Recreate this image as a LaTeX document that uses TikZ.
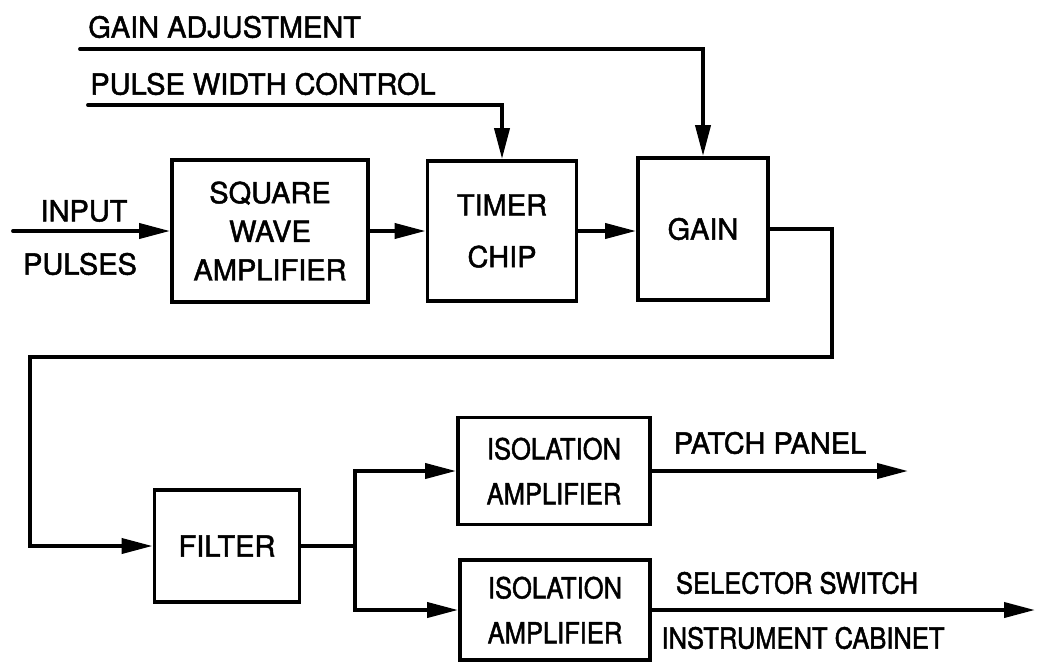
\documentclass[tikz,border=0pt]{standalone}
\usepackage{fontspec}
\setmainfont{TeX Gyre Heros}[FakeBold=1.6]
\usepackage{tikz}
\usetikzlibrary{arrows.meta,positioning,calc}
\tikzset{
  block/.style={
    rectangle, draw=black, line width=2.2pt,
    inner sep=0pt, align=center,
    font=\fontsize{16.5}{22}\selectfont
  },
  narrow/.style={font=\fontsize{16.5}{22}\selectfont\addfontfeature{FakeStretch=0.88}},
  sig/.style={line width=2.2pt, line cap=round},
  arr/.style={sig, -{Triangle[length=0.62cm,width=0.3cm]}},
  lbl/.style={font=\fontsize{16.5}{22}\selectfont, inner sep=0pt},
}

\begin{document}
\begin{tikzpicture}[x=0.02cm, y=-0.02cm]

  \useasboundingbox (0,0) rectangle (1037,663);

  % ── Blocks ───────────────────────────────────────────────────────────────────
  \node[block, minimum width=3.92cm, minimum height=2.84cm] (sqamp)  at (270,231)
    {SQUARE\\WAVE\\AMPLIFIER};
  \node[block, minimum width=2.98cm, minimum height=2.80cm] (timer)  at (502,231)
    {TIMER\\[7.5pt]CHIP};
  \node[block, minimum width=2.60cm, minimum height=2.84cm] (gain)   at (703,229)
    {GAIN};
  \node[block, minimum width=2.90cm, minimum height=2.24cm] (filter) at (227,546)
    {FILTER};
  \node[block, narrow, minimum width=3.84cm, minimum height=2.14cm] (isoA) at (554,471)
    {ISOLATION\\[3.6pt]AMPLIFIER};
  \node[block, narrow, minimum width=3.80cm, minimum height=2.00cm] (isoB) at (555,610)
    {ISOLATION\\[3.6pt]AMPLIFIER};

  % ── Control inputs ───────────────────────────────────────────────────────────
  \coordinate (gadj) at (80,49);
  \coordinate (pwc)  at (88,105);
  \node[lbl, anchor=west] (gadjtxt) at (88,27)  {GAIN ADJUSTMENT};
  \node[lbl, anchor=west] (pwctxt)  at (90,84)  {PULSE WIDTH CONTROL};
  \draw[arr] (gadj) -| (gain.north);
  \draw[arr] (pwc) -| (timer.north);

  % ── Input pulses ─────────────────────────────────────────────────────────────
  \coordinate (inp) at (13,231);
  \node[lbl] (inptxt)   at (84,211) {INPUT};
  \node[lbl] (pulstxt)  at (80,264) {PULSES};
  \draw[arr] (inp) -- (sqamp.west);

  % ── Top chain ────────────────────────────────────────────────────────────────
  \draw[arr] (sqamp.east) -- (timer.west);
  \draw[arr] (timer.east) -- (timer.east -| gain.west);

  % ── Loop back to filter ──────────────────────────────────────────────────────
  \coordinate (turnR) at (832,357);
  \coordinate (turnL) at (30,357);
  \draw[arr] (gain.east) -| (turnR) -- (turnL) |- (filter.west);

  % ── Split to isolation amplifiers ────────────────────────────────────────────
  \coordinate (split) at (355,546);
  \draw[sig] (filter.east) -- (split);
  \draw[arr] (split) |- (isoA.west);
  \draw[arr] (split) |- (isoB.west);

  % ── Outputs ──────────────────────────────────────────────────────────────────
  \coordinate (patch) at (908,471);
  \coordinate (selsw) at (1035,610);
  \draw[arr] (isoA.east) -- (patch);
  \draw[arr] (isoB.east) -- (selsw);
  \node[lbl] (patchtxt) at (770,443) {PATCH PANEL};
  \node[lbl, narrow, inner sep=0pt] (selswtxt) at (797,583) {SELECTOR SWITCH};
  \node[lbl, narrow, inner sep=0pt] (cabtxt)   at (803,638) {INSTRUMENT CABINET};

\end{tikzpicture}
\end{document}
